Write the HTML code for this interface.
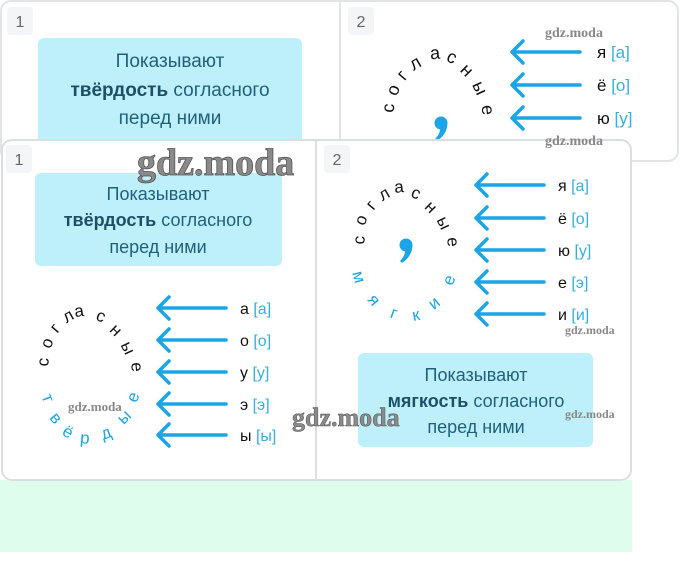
<!DOCTYPE html>
<html><head><meta charset="utf-8"><style>
html,body{margin:0;padding:0;background:#fff;width:680px;height:587px;overflow:hidden}
svg{display:block}
.t{font-family:"Liberation Sans","DejaVu Sans",sans-serif}
</style></head><body>
<svg width="680" height="587" viewBox="0 0 680 587" xmlns="http://www.w3.org/2000/svg" class="t">
<defs>
<g id="arr"><path d="M0 0 H68 M0 0 L11 -11 M0 0 L11 11" stroke="#1ba4e6" stroke-width="3.5" fill="none" stroke-linecap="round"/></g>
<g id="comma" fill="#1ba4e6"><circle cx="0" cy="0" r="6.5"/><path d="M6.4 0 C6.5 8 2 14 -4 18 L-6 16 C-2 12 -0.5 8 -1 4 Z"/></g>
</defs>
<rect x="0" y="480" width="632" height="72" fill="#dffdec"/>
<!-- top card -->
<rect x="1" y="1" width="677" height="160" rx="10" fill="#fff" stroke="#e2e4e6" stroke-width="2"/>
<line x1="340" y1="2" x2="340" y2="140" stroke="#e2e4e6" stroke-width="2"/>
<rect x="7" y="7" width="26" height="28" rx="4" fill="#f3f5f7"/>
<text x="20" y="27" font-size="16" fill="#666" text-anchor="middle">1</text>
<rect x="348" y="7" width="26" height="28" rx="4" fill="#f3f5f7"/>
<text x="361" y="27" font-size="16" fill="#666" text-anchor="middle">2</text>
<rect x="38" y="38" width="264" height="110" rx="6" fill="#bdf0fb"/>
<g font-size="19" fill="#21607c" text-anchor="middle">
<text x="170" y="67">Показывают</text>
<text x="170" y="96"><tspan font-weight="bold" fill="#1d4f68">твёрдость</tspan> согласного</text>
<text x="170" y="124">перед ними</text>
</g>
<g font-size="18" fill="#111" text-anchor="middle" dominant-baseline="central">
<text transform="translate(388,108) rotate(-85)">с</text>
<text transform="translate(393,90) rotate(-70)">о</text>
<text transform="translate(402,75) rotate(-50)">г</text>
<text transform="translate(415,63) rotate(-30)">л</text>
<text transform="translate(435,53) rotate(-5)">а</text>
<text transform="translate(452,57) rotate(25)">с</text>
<text transform="translate(467,70) rotate(45)">н</text>
<text transform="translate(480,88) rotate(65)">ы</text>
<text transform="translate(488,110) rotate(85)">е</text>
</g>
<use href="#comma" transform="translate(441,123)"/>
<use href="#arr" x="512" y="52"/><use href="#arr" x="512" y="85"/><use href="#arr" x="512" y="118"/>
<g font-size="17" fill="#111">
<text x="597" y="58">я <tspan fill="#35aee0">[а]</tspan></text>
<text x="597" y="91">ё <tspan fill="#35aee0">[о]</tspan></text>
<text x="597" y="124">ю <tspan fill="#35aee0">[у]</tspan></text>
</g>
<!-- bottom card -->
<rect x="2" y="140" width="629" height="340" rx="10" fill="#fff" stroke="#dcdfe2" stroke-width="2"/>
<line x1="316" y1="141" x2="316" y2="479" stroke="#dcdfe2" stroke-width="2"/>
<rect x="6" y="145" width="26" height="28" rx="4" fill="#f3f5f7"/>
<text x="19" y="165" font-size="16" fill="#666" text-anchor="middle">1</text>
<rect x="324" y="145" width="26" height="28" rx="4" fill="#f3f5f7"/>
<text x="337" y="165" font-size="16" fill="#666" text-anchor="middle">2</text>
<rect x="35" y="173" width="247" height="93" rx="6" fill="#bdf0fb"/>
<g font-size="18" fill="#21607c" text-anchor="middle">
<text x="158" y="200">Показывают</text>
<text x="158" y="226"><tspan font-weight="bold" fill="#1d4f68">твёрдость</tspan> согласного</text>
<text x="158" y="253">перед ними</text>
</g>
<g font-size="17" fill="#111" text-anchor="middle" dominant-baseline="central">
<text transform="translate(43,362) rotate(-85)">с</text>
<text transform="translate(47,343) rotate(-70)">о</text>
<text transform="translate(55,328) rotate(-50)">г</text>
<text transform="translate(68,316) rotate(-30)">л</text>
<text transform="translate(79,311) rotate(-8)">а</text>
<text transform="translate(101,316) rotate(25)">с</text>
<text transform="translate(116,330) rotate(45)">н</text>
<text transform="translate(128,348) rotate(65)">ы</text>
<text transform="translate(137,367) rotate(85)">е</text>
</g>
<g font-size="17" fill="#1ba4e6" text-anchor="middle" dominant-baseline="central">
<text transform="translate(48,398) rotate(70)">т</text>
<text transform="translate(56,418) rotate(50)">в</text>
<text transform="translate(68,432) rotate(30)">ё</text>
<text transform="translate(85,438) rotate(5)">р</text>
<text transform="translate(106,433) rotate(-20)">д</text>
<text transform="translate(124,417) rotate(-45)">ы</text>
<text transform="translate(133,397) rotate(-70)">е</text>
</g>
<use href="#arr" x="158" y="308"/><use href="#arr" x="158" y="340"/><use href="#arr" x="158" y="372"/><use href="#arr" x="158" y="404"/><use href="#arr" x="158" y="435"/>
<g font-size="16" fill="#111">
<text x="240" y="314">а <tspan fill="#35aee0">[а]</tspan></text>
<text x="240" y="346">о <tspan fill="#35aee0">[о]</tspan></text>
<text x="240" y="378">у <tspan fill="#35aee0">[у]</tspan></text>
<text x="240" y="410">э <tspan fill="#35aee0">[э]</tspan></text>
<text x="240" y="441">ы <tspan fill="#35aee0">[ы]</tspan></text>
</g>
<g font-size="17" fill="#111" text-anchor="middle" dominant-baseline="central">
<text transform="translate(359,240) rotate(-85)">с</text>
<text transform="translate(361,220) rotate(-70)">о</text>
<text transform="translate(371,205) rotate(-50)">г</text>
<text transform="translate(384,194) rotate(-30)">л</text>
<text transform="translate(399,187) rotate(-5)">а</text>
<text transform="translate(416,193) rotate(25)">с</text>
<text transform="translate(431,207) rotate(45)">н</text>
<text transform="translate(444,223) rotate(65)">ы</text>
<text transform="translate(453,242) rotate(85)">е</text>
</g>
<g font-size="17" fill="#1ba4e6" text-anchor="middle" dominant-baseline="central">
<text transform="translate(359,277) rotate(75)">м</text>
<text transform="translate(374,300) rotate(50)">я</text>
<text transform="translate(394,313) rotate(20)">г</text>
<text transform="translate(416,315) rotate(-10)">к</text>
<text transform="translate(434,303) rotate(-40)">и</text>
<text transform="translate(449,280) rotate(-70)">е</text>
</g>
<use href="#comma" transform="translate(406,245)"/>
<use href="#arr" x="476" y="185"/><use href="#arr" x="476" y="218"/><use href="#arr" x="476" y="250"/><use href="#arr" x="476" y="282"/><use href="#arr" x="476" y="314"/>
<g font-size="16" fill="#111">
<text x="558" y="191">я <tspan fill="#35aee0">[а]</tspan></text>
<text x="558" y="224">ё <tspan fill="#35aee0">[о]</tspan></text>
<text x="558" y="256">ю <tspan fill="#35aee0">[у]</tspan></text>
<text x="558" y="288">е <tspan fill="#35aee0">[э]</tspan></text>
<text x="558" y="320">и <tspan fill="#35aee0">[и]</tspan></text>
</g>
<rect x="358" y="353" width="235" height="94" rx="6" fill="#bdf0fb"/>
<g font-size="18" fill="#21607c" text-anchor="middle">
<text x="476" y="381">Показывают</text>
<text x="476" y="407"><tspan font-weight="bold" fill="#1d4f68">мягкость</tspan> согласного</text>
<text x="476" y="433">перед ними</text>
</g>
<g font-family="Liberation Serif,serif" fill="#888">
<text x="137" y="175" font-size="38" font-weight="bold" fill="#8a8a8a" stroke="#555" stroke-width="0.8">gdz.moda</text>
<text x="292" y="426" font-size="26" font-weight="bold" fill="#8a8a8a" stroke="#555" stroke-width="0.5">gdz.moda</text>
<text x="545" y="37" font-size="14" font-weight="bold">gdz.moda</text>
<text x="545" y="145" font-size="14" font-weight="bold">gdz.moda</text>
<text x="565" y="334" font-size="12" font-weight="bold">gdz.moda</text>
<text x="565" y="418" font-size="12" font-weight="bold">gdz.moda</text>
<text x="68" y="411" font-size="13" font-weight="bold">gdz.moda</text>
</g>
</svg>
</body></html>
